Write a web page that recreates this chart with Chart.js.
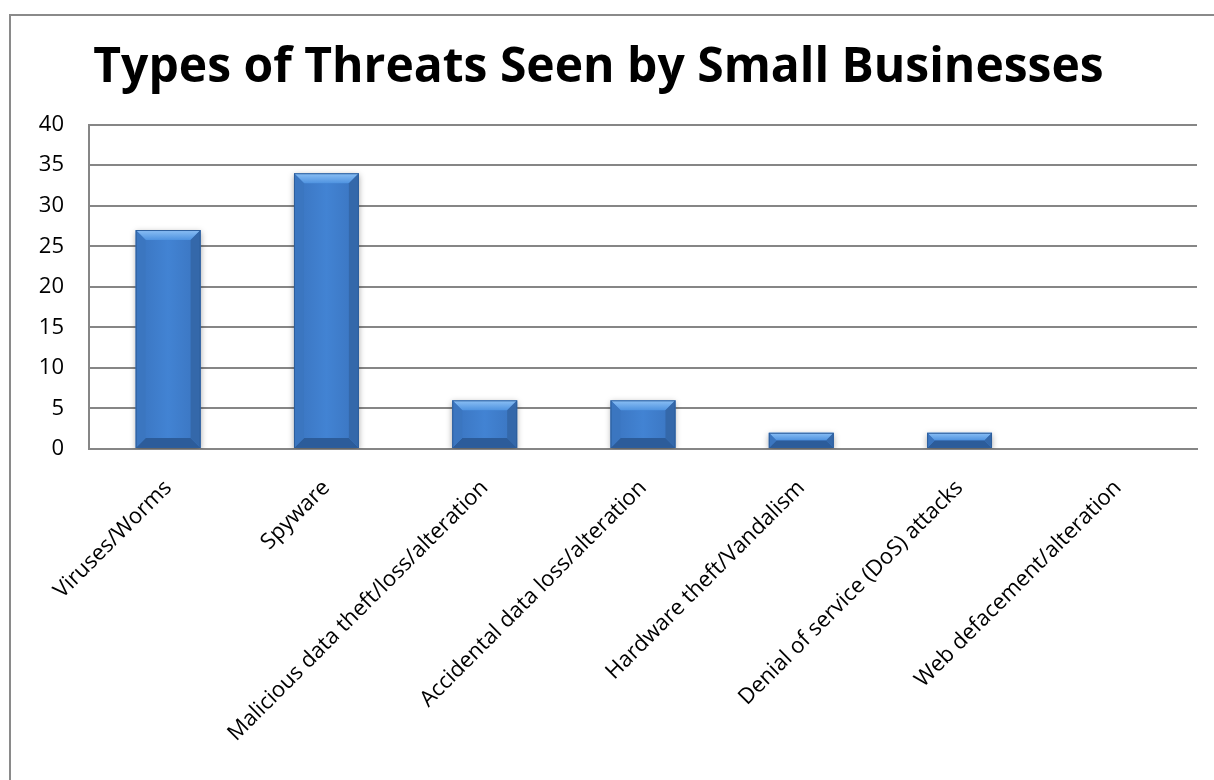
<!DOCTYPE html>
<html>
<head>
<meta charset="utf-8">
<script src="https://cdn.jsdelivr.net/npm/chart.js@4.4.1/dist/chart.umd.min.js"></script>
<style>
  html, body { margin: 0; padding: 0; background: #fff; overflow: hidden; }
  #frame { position: absolute; left: 9px; top: 14px; width: 1300px; height: 900px;
           border-top: 2px solid #8a8a8a; border-left: 2px solid #8a8a8a; }
  #wrap { position: absolute; left: 0; top: 0; width: 1214px; height: 780px; }
</style>
</head>
<body>
<div id="frame"></div>
<div id="wrap"><canvas id="grafico"></canvas></div>
<script>
  // datos
  var categorias = ["Viruses/Worms", "Spyware", "Malicious data theft/loss/alteration",
                    "Accidental data loss/alteration", "Hardware theft/Vandalism",
                    "Denial of service (DoS) attacks", "Web defacement/alteration"];
  var valores = [27, 34, 6, 6, 2, 2, 0];
  var marcasY = [0, 5, 10, 15, 20, 25, 30, 35, 40];
  var titulo = "Types of Threats Seen by Small Businesses";

  var fuente = "'Open Sans', 'Noto Sans', sans-serif";

  // bisel de las barras, a partir de los elementos que calcula la libreria
  var bisel = {
    id: "bisel",
    afterDatasetsDraw: function(chart) {
      var ctx = chart.ctx;
      chart.getDatasetMeta(0).data.forEach(function(bar) {
        var p = bar.getProps(["x", "y", "base", "width"], true);
        var l = p.x - p.width / 2, r = p.x + p.width / 2, t = p.y, b = p.base;
        var h = b - t;
        if (h < 1) return;
        var d = Math.min(10, h / 2);
        ctx.save();
        // cuerpo con degradado
        var g = ctx.createLinearGradient(l, 0, r, 0);
        g.addColorStop(0, "#3a74bf");
        g.addColorStop(0.5, "#4283d3");
        g.addColorStop(1, "#3a74bf");
        ctx.fillStyle = g;
        ctx.fillRect(l + d, t + d, p.width - 2 * d, h - 2 * d);
        // arriba
        var ga = ctx.createLinearGradient(0, t, 0, t + d);
        ga.addColorStop(0, "#8cc0f5");
        ga.addColorStop(1, "#4f93e0");
        ctx.fillStyle = ga;
        ctx.beginPath(); ctx.moveTo(l, t); ctx.lineTo(r, t); ctx.lineTo(r - d, t + d); ctx.lineTo(l + d, t + d); ctx.closePath(); ctx.fill();
        // abajo
        ctx.fillStyle = "#2c5c9a";
        ctx.beginPath(); ctx.moveTo(l, b); ctx.lineTo(r, b); ctx.lineTo(r - d, b - d); ctx.lineTo(l + d, b - d); ctx.closePath(); ctx.fill();
        // izquierda
        ctx.fillStyle = "#3b76c0";
        ctx.beginPath(); ctx.moveTo(l, t); ctx.lineTo(l + d, t + d); ctx.lineTo(l + d, b - d); ctx.lineTo(l, b); ctx.closePath(); ctx.fill();
        // derecha
        ctx.fillStyle = "#3468aa";
        ctx.beginPath(); ctx.moveTo(r, t); ctx.lineTo(r - d, t + d); ctx.lineTo(r - d, b - d); ctx.lineTo(r, b); ctx.closePath(); ctx.fill();
        ctx.strokeStyle = "#2d5e9c"; ctx.lineWidth = 1;
        ctx.strokeRect(l + 0.5, t + 0.5, p.width - 1, h - 1);
        ctx.restore();
      });
    }
  };

  var sombra = {
    id: "sombra",
    beforeDatasetsDraw: function(chart) {
      chart.ctx.save();
      chart.ctx.shadowColor = "rgba(0,0,0,0.35)";
      chart.ctx.shadowBlur = 6;
      chart.ctx.shadowOffsetY = 2;
    },
    afterDatasetsDraw: function(chart) { chart.ctx.restore(); }
  };

  var ctx = document.getElementById("grafico").getContext("2d");
  var grafico = new Chart(ctx, {
    type: "bar",
    data: {
      labels: categorias,
      datasets: [{
        label: "Threats",
        data: valores,
        backgroundColor: "#3d7bc9",
        borderWidth: 0,
        categoryPercentage: 1.0,
        barPercentage: 0.41
      }]
    },
    options: {
      responsive: true,
      maintainAspectRatio: false,
      animation: false,
      layout: { padding: { left: 0, right: 17, top: 0, bottom: 0 } },
      plugins: {
        legend: { display: false },
        tooltip: { enabled: false },
        title: {
          display: true,
          text: titulo,
          color: "#000",
          font: { family: fuente, size: 48, weight: "bold" },
          padding: { top: 40, bottom: 27 }
        }
      },
      scales: {
        x: {
          grid: { display: false, drawTicks: false },
          border: { display: true, color: "#868686", width: 2 },
          ticks: {
            color: "#000",
            font: { family: fuente, size: 22 },
            maxRotation: 45, minRotation: 45,
            padding: 26,
            autoSkip: false
          },
          afterFit: function(scale) { scale.height = 780 - 449; }
        },
        y: {
          min: 0, max: 40,
          afterBuildTicks: function(scale) {
            scale.ticks = marcasY.map(function(v) { return { value: v }; });
          },
          grid: { color: "#868686", lineWidth: 2, drawTicks: false },
          border: { display: true, color: "#868686", width: 2 },
          ticks: {
            color: "#000",
            font: { family: fuente, size: 22 },
            padding: 25
          },
          afterFit: function(scale) { scale.width = 89; }
        }
      }
    },
    plugins: [sombra, bisel]
  });
</script>
</body>
</html>
